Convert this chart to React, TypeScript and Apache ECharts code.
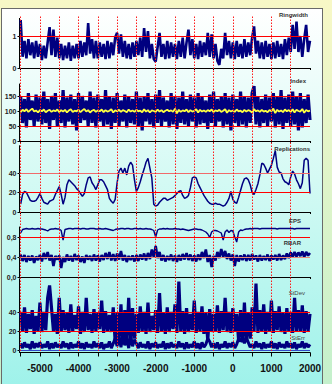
import React, { useEffect, useRef } from "react";
import * as echarts from "echarts";

// ---- axis / category data ----
const START_YEAR = -5500;
const STEP = 50;
const X_MIN = -5530;
const X_MAX = 2000;
const gridLineYears = [-5500, -5000, -4500, -4000, -3500, -3000, -2500, -2000, -1500, -1000, -500, 0, 500, 1000, 1500];
const xTickYears = [...gridLineYears, 2000];
const xLabelYears = [-5000, -4000, -3000, -2000, -1000, 0, 1000, 2000];

// ---- series values (one value per 50 years from -5500 to 2000) ----
const ringwidth = [
  1.5, 0.35, 0.85, 0.3, 0.9, 0.4, 0.8, 0.3, 0.85, 0.35,
  0.75, 0.25, 0.7, 0.3, 0.8, 1.28, 0.4, 1.2, 0.35, 0.95,
  0.3, 0.75, 0.25, 0.7, 0.3, 0.8, 0.22, 0.7, 0.3, 0.75,
  0.3, 0.85, 0.35, 0.8, 0.4, 1.4, 0.45, 0.9, 0.3, 0.85,
  0.3, 0.8, 0.35, 0.75, 0.28, 0.85, 0.3, 0.8, 0.4, 0.95,
  1.1, 0.45, 1.05, 0.35, 0.85, 0.3, 0.75, 0.28, 0.8, 0.35,
  0.85, 0.4, 0.95, 0.35, 1.25, 0.5, 1.15, 0.3, 0.75, 0.28,
  0.2, 0.65, 1.1, 0.35, 0.75, 0.28, 0.85, 0.3, 0.8, 0.35,
  0.75, 0.28, 0.85, 0.35, 0.95, 0.3, 0.8, 1.2, 0.4, 0.9,
  0.3, 0.75, 0.28, 0.85, 0.35, 0.8, 0.4, 1.1, 0.35, 1.05,
  0.3, 0.75, 0.22, 0.1, 0.6, 0.3, 1.1, 0.4, 0.85, 0.3,
  0.8, 0.28, 0.85, 0.35, 0.75, 0.3, 0.9, 0.35, 0.8, 0.4,
  0.95, 1.3, 0.45, 0.85, 0.3, 0.8, 0.28, 0.85, 0.35, 0.75,
  0.28, 0.8, 0.3, 0.85, 0.35, 0.75, 0.28, 0.9, 0.4, 0.95,
  0.5, 1.35, 0.6, 1.45, 0.5, 1.0, 0.35, 0.9, 1.35, 0.5,
  0.85,
];

const indexRaw = [
  150, 60, 140, 45, 160, 70, 135, 50, 155, 65,
  145, 55, 165, 60, 140, 40, 150, 70, 160, 50,
  135, 60, 170, 45, 145, 65, 155, 55, 140, 35,
  160, 60, 150, 70, 135, 50, 165, 60, 145, 45,
  155, 65, 140, 50, 170, 55, 150, 40, 145, 60,
  160, 50, 135, 65, 155, 45, 150, 60, 140, 55,
  165, 50, 145, 35, 150, 65, 160, 55, 140, 45,
  155, 60, 170, 50, 145, 65, 135, 45, 160, 55,
  150, 40, 145, 60, 165, 55, 140, 50, 155, 65,
  145, 45, 160, 55, 150, 60, 135, 40, 155, 60,
  165, 50, 140, 65, 150, 45, 160, 55, 145, 35,
  155, 60, 140, 50, 165, 55, 150, 45, 145, 60,
  160, 183, 55, 150, 45, 140, 60, 155, 50, 145,
  65, 160, 45, 150, 55, 170, 40, 145, 60, 155,
  50, 165, 55, 150, 35, 160, 45, 140, 60, 155,
  70,
];

const indexSmooth = [
  96, 104, 99, 106, 97, 103, 108, 98, 102, 95,
  103, 99, 105, 96, 101, 104, 97, 102, 99, 105,
  96, 103, 98, 104, 95, 102, 106, 97, 101, 99,
  104, 96, 102, 107, 98, 103, 95, 101, 104, 97,
  102, 99, 105, 96, 103, 98, 101, 106, 95, 102,
  99, 104, 97, 103, 100, 96, 105, 98, 102, 97,
  104, 99, 101, 96, 106, 98, 103, 95, 102, 100,
  97, 105, 98, 103, 96, 101, 104, 99, 102, 97,
  108, 92, 104, 97, 102, 99, 105, 96, 103, 98,
  101, 106, 95, 104, 98, 102, 97, 103, 99, 105,
  96, 102, 99, 104, 97, 101, 106, 94, 103, 98,
  102, 97, 105, 99, 101, 96, 104, 98, 103, 100,
  95, 106, 99, 102, 97, 104, 98, 101, 96, 103,
  99, 108, 93, 104, 98, 102, 96, 105, 99, 103,
  97, 106, 95, 104, 100, 98, 107, 94, 103, 99,
  101,
];

const replications = [
  8, 18, 21, 20, 16, 12, 11, 11, 12, 15,
  19, 14, 10, 9, 8, 11, 12, 13, 18, 22,
  26, 18, 8, 15, 28, 33, 31, 29, 27, 24,
  22, 19, 16, 19, 28, 35, 36, 30, 27, 23,
  28, 33, 33, 31, 27, 23, 14, 11, 9, 13,
  30, 42, 45, 40, 45, 38, 47, 51, 48, 33,
  21, 25, 31, 38, 44, 51, 55, 45, 35, 8,
  6, 7, 10, 12, 14, 14, 12, 13, 14, 15,
  17, 19, 21, 22, 17, 14, 15, 17, 25, 35,
  36, 35, 29, 25, 21, 17, 14, 11, 9, 8,
  8, 9, 8, 8, 7, 6, 7, 10, 14, 21,
  13, 10, 9, 15, 22, 29, 34, 35, 33, 28,
  20, 18, 23, 29, 38, 50, 49, 45, 40, 44,
  48, 55, 63, 46, 41, 40, 34, 31, 30, 28,
  36, 42, 39, 33, 29, 24, 30, 53, 55, 53,
  19,
];

const eps = [
  0.88, 0.95, 0.96, 0.97, 0.96, 0.96, 0.97, 0.96, 0.96, 0.97,
  0.96, 0.96, 0.95, 0.94, 0.92, 0.95, 0.96, 0.96, 0.97, 0.96,
  0.96, 0.93, 0.74, 0.95, 0.96, 0.97, 0.97, 0.96, 0.97, 0.97,
  0.97, 0.96, 0.97, 0.97, 0.96, 0.96, 0.97, 0.97, 0.97, 0.96,
  0.96, 0.97, 0.96, 0.96, 0.97, 0.96, 0.95, 0.94, 0.93, 0.95,
  0.96, 0.96, 0.97, 0.97, 0.96, 0.97, 0.97, 0.96, 0.96, 0.97,
  0.97, 0.96, 0.97, 0.96, 0.96, 0.97, 0.96, 0.96, 0.95, 0.93,
  0.8, 0.94, 0.96, 0.96, 0.97, 0.96, 0.97, 0.96, 0.96, 0.96,
  0.97, 0.96, 0.96, 0.95, 0.96, 0.95, 0.94, 0.93, 0.94, 0.95,
  0.96, 0.96, 0.95, 0.95, 0.94, 0.92, 0.9, 0.86, 0.79, 0.9,
  0.93, 0.93, 0.92, 0.9, 0.88, 0.74, 0.9, 0.94, 0.89, 0.93,
  0.92, 0.8, 0.7, 0.9, 0.94, 0.93, 0.95, 0.96, 0.96, 0.97,
  0.96, 0.97, 0.97, 0.97, 0.96, 0.97, 0.97, 0.97, 0.97, 0.97,
  0.97, 0.97, 0.97, 0.96, 0.97, 0.97, 0.97, 0.97, 0.97, 0.97,
  0.97, 0.97, 0.96, 0.97, 0.97, 0.97, 0.97, 0.97, 0.97, 0.97,
  0.97,
];

const rbar = [
  0.45, 0.32, 0.44, 0.3, 0.42, 0.33, 0.43, 0.28, 0.41, 0.34,
  0.44, 0.31, 0.48, 0.36, 0.5, 0.33, 0.44, 0.22, 0.42, 0.35,
  0.43, 0.18, 0.4, 0.3, 0.45, 0.33, 0.42, 0.31, 0.46, 0.34,
  0.43, 0.3, 0.41, 0.28, 0.44, 0.35, 0.42, 0.32, 0.45, 0.33,
  0.43, 0.31, 0.44, 0.34, 0.48, 0.36, 0.5, 0.33, 0.46, 0.32,
  0.47, 0.35, 0.52, 0.33, 0.44, 0.3, 0.42, 0.34, 0.43, 0.31,
  0.44, 0.32, 0.45, 0.35, 0.47, 0.33, 0.48, 0.36, 0.55, 0.4,
  0.62, 0.38, 0.5, 0.33, 0.44, 0.31, 0.42, 0.34, 0.45, 0.32,
  0.43, 0.3, 0.44, 0.33, 0.46, 0.35, 0.48, 0.34, 0.45, 0.32,
  0.43, 0.31, 0.45, 0.34, 0.5, 0.38, 0.55, 0.3, 0.44, 0.2,
  0.42, 0.33, 0.5, 0.38, 0.56, 0.4, 0.52, 0.36, 0.47, 0.33,
  0.45, 0.22, 0.44, 0.31, 0.43, 0.34, 0.45, 0.32, 0.44, 0.33,
  0.46, 0.35, 0.43, 0.31, 0.44, 0.33, 0.42, 0.34, 0.45, 0.32,
  0.43, 0.35, 0.44, 0.33, 0.46, 0.34, 0.43, 0.36, 0.47, 0.38,
  0.49, 0.4, 0.5, 0.41, 0.49, 0.42, 0.51, 0.4, 0.5, 0.43,
  0.48,
];

const stdev = [
  40, 20, 45, 18, 38, 22, 42, 17, 36, 20,
  50, 19, 40, 21, 55, 68, 44, 20, 38, 17,
  55, 19, 42, 21, 39, 18, 48, 20, 37, 22,
  46, 17, 40, 19, 55, 21, 38, 18, 43, 20,
  39, 22, 52, 18, 41, 20, 37, 19, 45, 8,
  40, 12, 48, 6, 42, 10, 55, 7, 44, 12,
  38, 18, 46, 20, 40, 17, 50, 19, 36, 21,
  42, 18, 60, 20, 39, 17, 45, 19, 40, 22,
  48, 18, 72, 20, 41, 17, 44, 19, 38, 21,
  52, 18, 40, 20, 46, 17, 39, 10, 43, 19,
  38, 20, 47, 18, 41, 21, 55, 19, 40, 18,
  44, 20, 38, 10, 42, 8, 50, 9, 39, 12,
  45, 20, 70, 18, 42, 19, 48, 17, 40, 20,
  52, 18, 41, 21, 46, 19, 39, 17, 44, 20,
  40, 18, 55, 20, 42, 19, 47, 18, 41, 20,
  38,
];

const sterr = [
  7, 2, 8, 3, 6, 1, 9, 2, 7, 3,
  8, 2, 6, 3, 9, 1, 7, 2, 8, 3,
  6, 2, 9, 3, 7, 1, 8, 2, 6, 3,
  9, 2, 7, 1, 8, 3, 6, 2, 9, 3,
  7, 2, 8, 1, 6, 3, 9, 2, 7, 12,
  4, 14, 3, 16, 5, 13, 2, 15, 4, 11,
  7, 2, 8, 3, 6, 2, 9, 1, 7, 3,
  8, 2, 6, 3, 9, 1, 7, 2, 8, 3,
  6, 2, 9, 3, 7, 1, 8, 2, 6, 3,
  9, 2, 7, 1, 8, 3, 6, 12, 9, 3,
  7, 2, 8, 1, 6, 3, 9, 2, 7, 3,
  8, 2, 6, 12, 9, 14, 7, 13, 8, 3,
  6, 2, 9, 3, 7, 1, 8, 2, 6, 3,
  9, 2, 7, 1, 8, 3, 6, 2, 9, 3,
  7, 2, 8, 1, 6, 3, 9, 2, 7, 3,
  6,
];

// tick labels for each panel's y axis
const yLabels = [[0, 1], [0, 50, 100, 150], [0, 20, 40], [0, 0.4, 0.8], [0, 20, 40]];

const NAVY = "#000080";
const RED = "#ff0000";
const FONT = '"Liberation Sans", Arial, sans-serif';
const NARROW = '"Liberation Sans Narrow", "Arial Narrow", "Liberation Sans", sans-serif';

const years = ringwidth.map((_, i) => START_YEAR + i * STEP);
const pairs = (arr: number[]) => arr.map((v, i) => [years[i], v]);

// layout of the five stacked panels
const panels = [
  { top: 18.4, height: 49.6, min: 0, max: 1.55, refs: [{ v: 1, c: RED }] },
  { top: 84, height: 57, min: 0, max: 190, refs: [{ v: 150, c: RED }, { v: 50, c: RED }] },
  { top: 145.7, height: 66.3, min: 0, max: 68, refs: [{ v: 40, c: "#f06a6a" }, { v: 20, c: RED }] },
  { top: 227, height: 50, min: 0, max: 1, refs: [{ v: 0.8, c: RED }, { v: 0.4, c: "#e88a78" }] },
  { top: 278.75, height: 73.75, min: -2.6, max: 75, refs: [{ v: 40, c: RED }, { v: 20, c: RED }, { v: 0, c: "#3048c8" }] },
];

function buildOption() {
  const grids: any[] = panels.map((p) => ({
    left: 19.5, width: 290.5, top: p.top, height: p.height, containLabel: false, outerBoundsMode: "none",
  }));
  grids.push({ left: 19.5, width: 290.5, top: 15, height: 336, containLabel: false, outerBoundsMode: "none" });

  const xAxes: any[] = panels.map((_, p) => ({
    type: "value", gridIndex: p, min: X_MIN, max: X_MAX,
    axisLine: { show: true, onZero: false, lineStyle: { color: "#000", width: 1 } },
    axisTick: { show: true, customValues: xTickYears, length: p === 4 ? 4 : 2, lineStyle: { color: "#000" } },
    axisLabel: {
      show: p === 4, customValues: xLabelYears, margin: 11,
      fontSize: 10, fontWeight: "bold", fontFamily: NARROW, color: "#111",
      formatter: (v: number) => String(v),
    },
    splitLine: { show: false },
  }));
  xAxes.push({ type: "value", gridIndex: 5, min: X_MIN, max: X_MAX, show: false });

  const yAxes: any[] = panels.map((p, i) => ({
    type: "value", gridIndex: i, min: p.min, max: p.max,
    axisLine: { show: true, onZero: false, lineStyle: { color: "#000", width: 1 } },
    axisTick: { show: true, customValues: yLabels[i], length: 2, lineStyle: { color: "#000" } },
    axisLabel: {
      customValues: yLabels[i], margin: 3, fontSize: 7, fontWeight: "bold", fontFamily: FONT, color: "#222",
      formatter: (v: number) => (i === 3 ? v.toFixed(1).replace(".", ",") : String(v)),
    },
    splitLine: { show: false },
  }));
  yAxes.push({ type: "value", gridIndex: 5, min: 0, max: 1, show: false });

  const series: any[] = [];
  panels.forEach((p, i) => {
    series.push({
      type: "line", xAxisIndex: i, yAxisIndex: i, data: [[X_MIN, p.min]], symbol: "none",
      lineStyle: { opacity: 0 }, z: 1, silent: true,
      markLine: {
        silent: true, symbol: "none", label: { show: false }, animation: false,
        data: p.refs.map((r) => ({ yAxis: r.v, lineStyle: { color: r.c, width: 1, type: "solid" } })),
      },
    });
  });
  const line = (idx: number, arr: number[], color = NAVY, width = 1.3, z = 2) => ({
    type: "line", xAxisIndex: idx, yAxisIndex: idx, data: pairs(arr), symbol: "none",
    lineStyle: { color, width, join: "bevel" }, z, silent: true,
  });
  series.push(line(0, ringwidth, NAVY, 2.6));
  series.push(line(1, indexRaw, NAVY, 3.2));
  series.push(line(1, indexSmooth, "#ffff40", 1.8, 3));
  series.push(line(2, replications, NAVY, 1.5));
  series.push(line(3, eps, NAVY, 1.4));
  series.push(line(3, rbar, NAVY, 2.6));
  series.push(line(4, stdev, NAVY, 3.2));
  series.push(line(4, sterr, NAVY, 3));
  // vertical dotted grid lines across all panels
  series.push({
    type: "line", xAxisIndex: 5, yAxisIndex: 5, data: [[X_MIN, 0]], symbol: "none",
    lineStyle: { opacity: 0 }, z: 6, silent: true,
    markLine: {
      silent: true, symbol: "none", label: { show: false }, animation: false,
      lineStyle: { color: "#ff1a1a", width: 1, type: [1.5, 1.5] },
      data: gridLineYears.map((v) => ({ xAxis: v })),
    },
  });

  const label = (text: string, x: number, y: number, bold = true, fill = "#333") => ({
    type: "text", x, y, z: 20, silent: true,
    style: {
      text, align: "right", verticalAlign: "middle", fill,
      font: `${bold ? "bold " : ""}6px ${FONT}`,
    },
  });

  return {
    animation: false,
    backgroundColor: "transparent",
    grid: grids,
    xAxis: xAxes,
    yAxis: yAxes,
    series,
    graphic: [
      label("Ringwidth", 308, 15),
      label("Index", 306, 80.5),
      label("Replications", 310, 149),
      label("EPS", 301, 221),
      label("RBAR", 301, 243),
      label("StDev", 305, 293, false, "#444"),
      label("StErr", 305, 338, false, "#444"),
    ],
  };
}

export default function App() {
  const ref = useRef<HTMLDivElement>(null);
  useEffect(() => {
    if (!ref.current) return;
    const chart = echarts.init(ref.current, null, { renderer: "svg" });
    chart.setOption(buildOption() as any);
    return () => chart.dispose();
  }, []);
  return (
    <div
      style={{
        position: "fixed", left: 0, top: 0, width: 332, height: 384, overflow: "hidden",
        background: "linear-gradient(#f8f8c6, #c4f0cc)",
      }}
    >
      <div
        style={{
          position: "absolute", left: 1, top: 8, width: 320, height: 380,
          borderLeft: "1.5px solid #6a6a6a", borderTop: "1px solid #6a6a6a", borderRight: "1px solid #6a6a6a",
          background: "linear-gradient(#ffffff, #d4faf4 45%, #9ef2ea)",
        }}
      />
      <div ref={ref} style={{ position: "absolute", left: 0, top: 0, width: 332, height: 384 }} />
    </div>
  );
}
